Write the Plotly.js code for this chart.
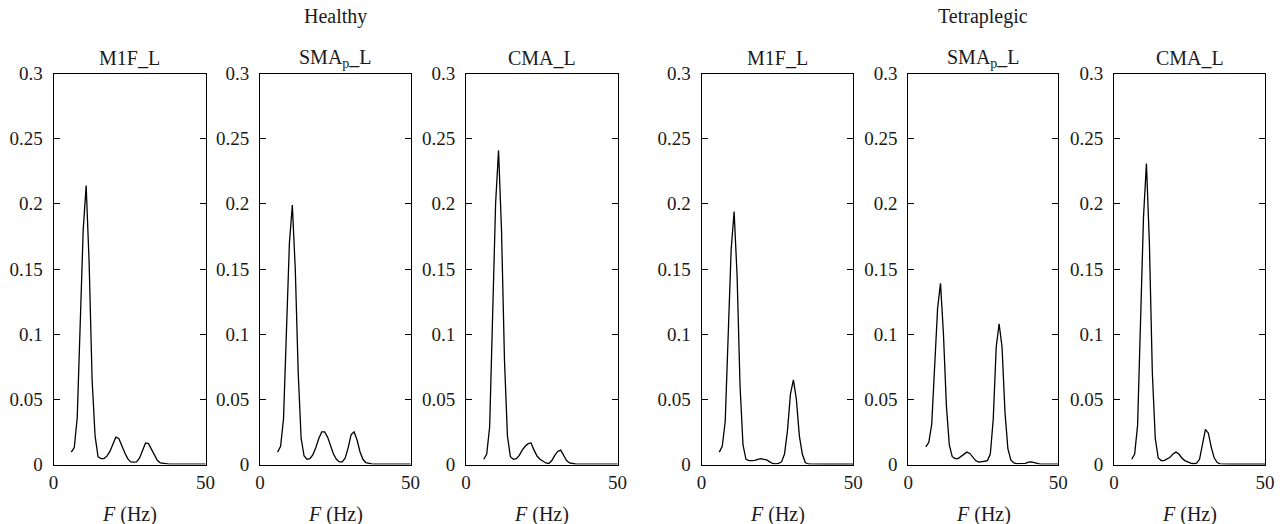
<!DOCTYPE html>
<html>
<head>
<meta charset="utf-8">
<script src="https://cdn.plot.ly/plotly-3.0.1.min.js"></script>
<style>
  html, body { margin: 0; padding: 0; background: #fff; }
  #chart { width: 1284px; height: 524px; }
</style>
</head>
<body>
<div id="chart"></div>
<script>
// Frequency bins (Hz)
const hz = [5.86, 6.84, 7.81, 8.79, 9.77, 10.74, 11.72, 12.70, 13.67, 14.65, 15.63, 16.60, 17.58, 18.55, 19.53,
            20.51, 21.48, 22.46, 23.44, 24.41, 25.39, 26.37, 27.34, 28.32, 29.30, 30.27, 31.25, 32.23, 33.20, 34.18,
            35.16, 36.13, 37.11, 38.09, 39.06, 40.04, 41.02, 41.99, 42.97, 43.95, 44.92, 45.90, 46.88, 47.85, 48.83,
            49.80, 50.78];

// Healthy
const healthyM1F = [0.0095, 0.013, 0.036, 0.10, 0.18, 0.214, 0.155, 0.065, 0.022, 0.006, 0.0045, 0.0046, 0.0064, 0.010, 0.015,
                    0.021, 0.020, 0.014, 0.009, 0.0045, 0.002, 0.0018, 0.002, 0.005, 0.0115, 0.0165, 0.016, 0.0115, 0.0064, 0.003,
                    0.0013, 0.0008, 0.0005, 0.0003, 0.0003, 0.0003, 0.0003, 0.0003, 0.0003, 0.0003, 0.0003, 0.0003, 0.0003, 0.0003, 0.0003,
                    0.0003, 0.0003];
const healthySMAp = [0.0095, 0.014, 0.035, 0.10, 0.17, 0.199, 0.15, 0.07, 0.02, 0.0065, 0.004, 0.0045, 0.0075, 0.013, 0.020,
                     0.025, 0.025, 0.021, 0.014, 0.008, 0.004, 0.002, 0.002, 0.005, 0.013, 0.023, 0.025, 0.019, 0.010, 0.004,
                     0.0015, 0.0008, 0.0005, 0.0003, 0.0003, 0.0003, 0.0003, 0.0003, 0.0003, 0.0003, 0.0003, 0.0003, 0.0003, 0.0003, 0.0003,
                     0.0003, 0.0003];
const healthyCMA = [0.004, 0.008, 0.029, 0.12, 0.20, 0.241, 0.18, 0.08, 0.022, 0.006, 0.004, 0.0045, 0.007, 0.011, 0.014,
                    0.016, 0.0165, 0.011, 0.0065, 0.004, 0.0025, 0.0012, 0.0008, 0.003, 0.007, 0.010, 0.011, 0.0065, 0.003, 0.0012,
                    0.0006, 0.0004, 0.0003, 0.0003, 0.0003, 0.0003, 0.0003, 0.0003, 0.0003, 0.0003, 0.0003, 0.0003, 0.0003, 0.0003, 0.0003,
                    0.0003, 0.0003];

// Tetraplegic
const tetraM1F = [0.0095, 0.014, 0.033, 0.10, 0.165, 0.194, 0.145, 0.06, 0.015, 0.004, 0.003, 0.003, 0.0032, 0.004, 0.0045,
                  0.004, 0.0035, 0.002, 0.0008, 0.0005, 0.0008, 0.002, 0.008, 0.026, 0.054, 0.065, 0.05, 0.022, 0.008, 0.0015,
                  0.0004, 0.0003, 0.0002, 0.0002, 0.0002, 0.0002, 0.0002, 0.0002, 0.0002, 0.0002, 0.0002, 0.0002, 0.0002, 0.0002, 0.0002,
                  0.0002, 0.0002];
const tetraSMAp = [0.0135, 0.017, 0.031, 0.075, 0.12, 0.139, 0.10, 0.045, 0.015, 0.006, 0.0045, 0.0045, 0.006, 0.008, 0.0095,
                   0.0085, 0.0055, 0.003, 0.0018, 0.002, 0.0025, 0.003, 0.008, 0.035, 0.09, 0.108, 0.09, 0.04, 0.012, 0.0035,
                   0.0012, 0.0006, 0.0005, 0.0005, 0.0008, 0.0018, 0.002, 0.0015, 0.0006, 0.0003, 0.0003, 0.0003, 0.0003, 0.0003, 0.0003,
                   0.0003, 0.0003];
const tetraCMA = [0.004, 0.008, 0.03, 0.11, 0.19, 0.231, 0.17, 0.07, 0.02, 0.005, 0.003, 0.003, 0.004, 0.0055, 0.008,
                  0.0095, 0.008, 0.005, 0.003, 0.0018, 0.001, 0.0006, 0.001, 0.004, 0.015, 0.027, 0.024, 0.013, 0.005, 0.0015,
                  0.0005, 0.0003, 0.0002, 0.0002, 0.0002, 0.0002, 0.0002, 0.0002, 0.0002, 0.0002, 0.0002, 0.0002, 0.0002, 0.0002, 0.0002,
                  0.0002, 0.0002];

const seriesList = [healthyM1F, healthySMAp, healthyCMA, tetraM1F, tetraSMAp, tetraCMA];
const panelTitles = ["M1F_L", "SMA<sub>p</sub>_L", "CMA_L", "M1F_L", "SMA<sub>p</sub>_L", "CMA_L"];
const groupTitles = ["Healthy", "Tetraplegic"];
const yTickVals = [0, 0.05, 0.1, 0.15, 0.2, 0.25, 0.3];
const yTickText = ["0", "0.05", "0.1", "0.15", "0.2", "0.25", "0.3"];
const xTickVals = [0, 50];
const xTickText = ["0", "50"];
const xTitle = "<i>F</i> (Hz)";

const W = 1284, H = 524;
const panelPx = [[53.5, 205.5], [260, 410.5], [466, 617.5], [701.5, 853.3], [908.3, 1058.3], [1114, 1265]];
const topPx = 73.5, botPx = 464.5;
const yDom = [1 - botPx / H, 1 - topPx / H];
const FONT = "'Liberation Serif', 'Times New Roman', serif";
const TXT = "#1a1a1a";
const TICK_SIZE = 19, TITLE_SIZE = 20;

const traces = [];
const layout = {
  width: W, height: H,
  margin: {l: 0, r: 0, t: 0, b: 0},
  paper_bgcolor: "#fff", plot_bgcolor: "#fff",
  showlegend: false,
  font: {family: FONT, size: TICK_SIZE, color: TXT},
  annotations: []
};

seriesList.forEach((vals, i) => {
  const n = i + 1;
  const xa = "x" + (n === 1 ? "" : n), ya = "y" + (n === 1 ? "" : n);
  traces.push({
    x: hz, y: vals, xaxis: xa, yaxis: ya, type: "scatter", mode: "lines",
    line: {color: "#000", width: 1.3}, hoverinfo: "skip"
  });
  const dom = [panelPx[i][0] / W, panelPx[i][1] / W];
  layout["xaxis" + (n === 1 ? "" : n)] = {
    domain: dom, range: [0, 50], anchor: ya,
    tickvals: xTickVals, ticktext: xTickText, ticks: "",
    showline: true, mirror: true, linecolor: "#000", linewidth: 1,
    showgrid: false, zeroline: false, ticklabelstandoff: 1,
    tickfont: {family: FONT, size: TICK_SIZE, color: TXT}, fixedrange: true
  };
  layout["yaxis" + (n === 1 ? "" : n)] = {
    domain: yDom, range: [0, 0.3], anchor: xa,
    tickvals: yTickVals, ticktext: yTickText, ticks: "inside", ticklen: 6, tickwidth: 1, tickcolor: "#000",
    showline: true, mirror: "ticks", linecolor: "#000", linewidth: 1,
    showgrid: false, zeroline: false, ticklabelstandoff: 6,
    tickfont: {family: FONT, size: TICK_SIZE, color: TXT}, fixedrange: true
  };
  const cx = (dom[0] + dom[1]) / 2;
  layout.annotations.push({
    xref: "paper", yref: "paper", x: cx, y: 1 - 58 / H, xanchor: "center", yanchor: "middle",
    text: panelTitles[i], showarrow: false, font: {family: FONT, size: TITLE_SIZE, color: TXT}
  });
  layout.annotations.push({
    xref: "paper", yref: "paper", x: cx, y: 1 - 514 / H, xanchor: "center", yanchor: "middle",
    text: xTitle, showarrow: false, font: {family: FONT, size: TITLE_SIZE, color: TXT}
  });
});

[1, 4].forEach((pi, g) => {
  const cx = (panelPx[pi][0] + panelPx[pi][1]) / 2 / W;
  layout.annotations.push({
    xref: "paper", yref: "paper", x: cx, y: 1 - 16 / H, xanchor: "center", yanchor: "middle",
    text: groupTitles[g], showarrow: false, font: {family: FONT, size: TITLE_SIZE, color: TXT}
  });
});

Plotly.newPlot("chart", traces, layout, {staticPlot: true, displayModeBar: false});
</script>
</body>
</html>
